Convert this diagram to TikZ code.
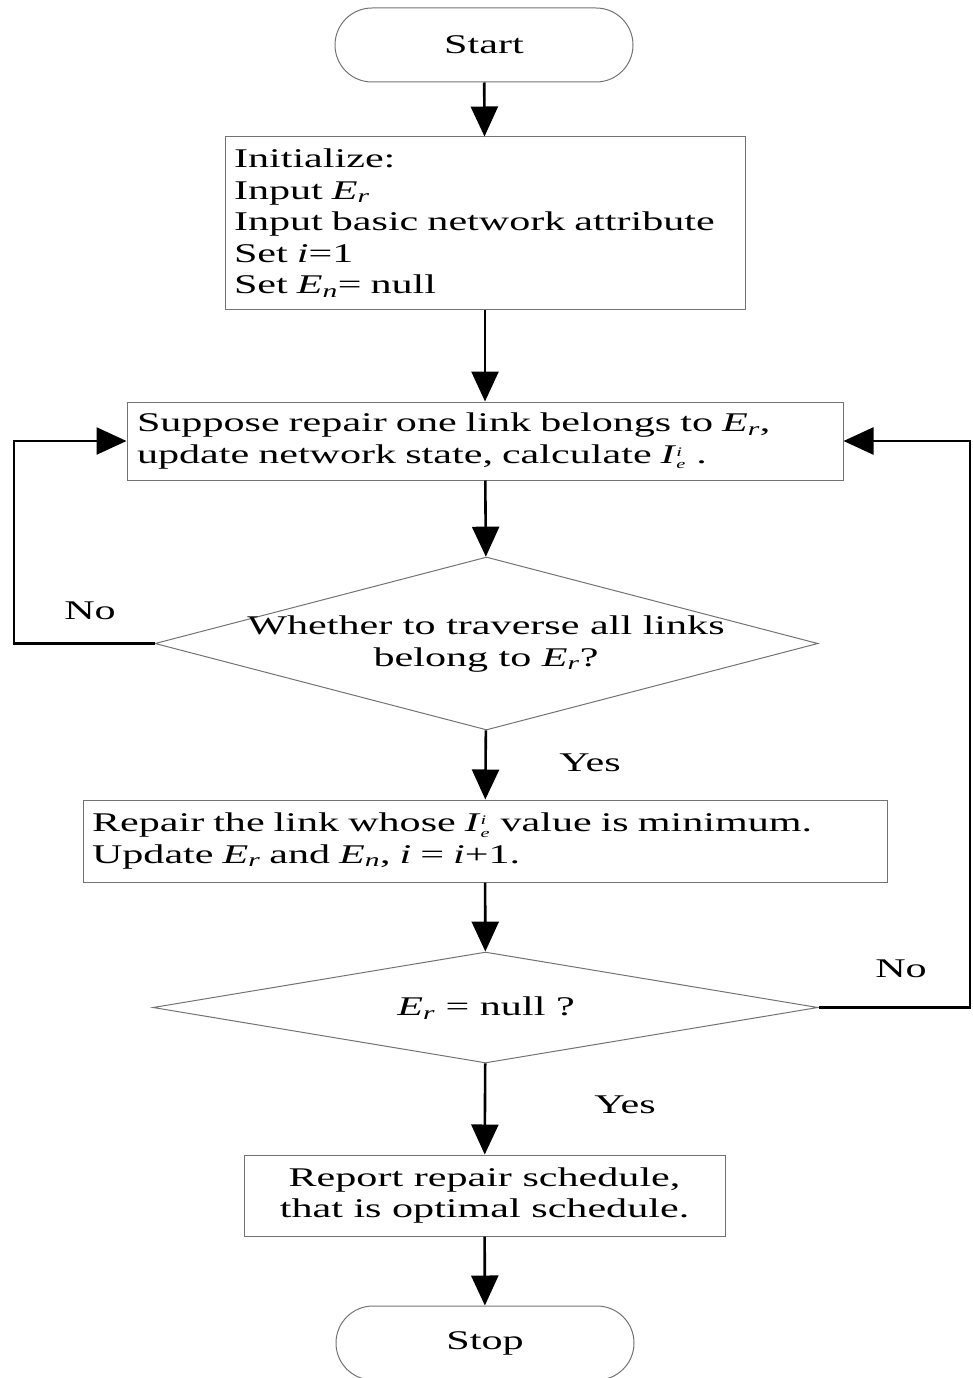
\documentclass[tikz,border=0pt]{standalone}
\usepackage{fontspec}
\setmainfont{Liberation Serif}[FakeStretch=1.56]
\usetikzlibrary{shapes.geometric,arrows.meta}
\newcommand{\mytext}{\fontsize{27}{31.5}\selectfont}
\newcommand{\Esub}[1]{\textit{E}\textsubscript{\textit{#1}}}
\newcommand{\Iei}{\textit{I}\rlap{\raisebox{0.55ex}{\fontsize{13}{13}\selectfont\textit{i}}}\raisebox{-0.45ex}{\fontsize{13}{13}\selectfont\textit{e}}\hspace{2pt}}
\begin{document}
\begin{tikzpicture}[x=1pt,y=-1pt,
  box/.style={draw=black!55, line width=1pt, inner sep=0pt, font=\mytext},
  term/.style={box, rounded corners=37pt, minimum width=298pt, minimum height=74pt, align=center},
  dec/.style={diamond, draw=black!55, line width=1pt, inner sep=0pt, aspect=1, font=\mytext},
  conn/.style={line width=2.6pt, -{Triangle[length=30pt,width=27pt]}},
  lab/.style={font=\mytext, inner sep=0pt}]
\useasboundingbox (0,0) rectangle (973,1378);
\clip (0,0) rectangle (973,1378);

\node[term] (start) at (484,45) {Start};
\node[box, inner xsep=9pt, text width=502pt, minimum height=172pt, align=left] (init) at (485,223)
  {Initialize:\\ Input \Esub{r}\\ Input basic network attribute\\ Set \textit{i}=1\\ Set \Esub{n}= null};
\node[box, inner xsep=10pt, text width=696pt, minimum height=78pt, align=left] (supp) at (485,441)
  {Suppose repair one link belongs to \Esub{r},\\ update network state, calculate \Iei~.};
\node[dec, minimum width=663pt, minimum height=173pt] (d1) at (486.5,643.5) {};
\node[lab, align=center] (d1t) at (486,644) {Whether to traverse all links\\ belong to \Esub{r}?};
\node[box, inner xsep=9pt, text width=786pt, minimum height=82pt, align=left] (rep) at (485,841)
  {Repair the link whose \Iei{} value is minimum.\\ Update \Esub{r} and \Esub{n}, \textit{i} = \textit{i}+1.};
\node[dec, minimum width=665pt, minimum height=111pt] (d2) at (485.5,1007.5) {};
\node[lab] (d2t) at (486,1008) {\Esub{r} = null ?};
\node[box, minimum width=481pt, minimum height=81pt, align=center] (rpt) at (484.5,1195.5)
  {Report repair schedule,\\ that is optimal schedule.};
\node[term] (stop) at (485,1343) {Stop};

\coordinate (lc) at (14,643.5);
\coordinate (rc) at (970,1007.5);

\draw[conn] (start) -- (init);
\draw[conn] (init) -- (supp);
\draw[conn] (supp) -- (d1);
\draw[conn] (d1) -- (rep);
\draw[conn] (rep) -- (d2);
\draw[conn] (d2) -- (rpt);
\draw[conn] (rpt) -- (stop);
\draw[conn] (d1.west) -- (lc) |- (supp.west);
\draw[conn] (d2.east) -- (rc) |- (supp.east);

\node[lab] (no1) at (90,611) {No};
\node[lab] (yes1) at (590,763) {Yes};
\node[lab] (no2) at (901,969) {No};
\node[lab] (yes2) at (625,1105) {Yes};
\end{tikzpicture}
\end{document}
